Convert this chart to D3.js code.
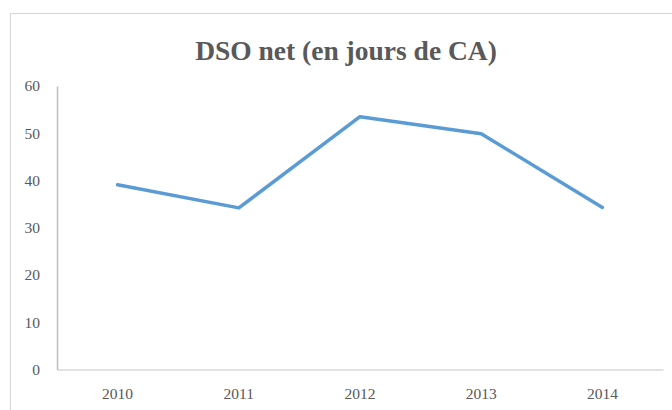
<!DOCTYPE html>
<html>
<head>
<meta charset="utf-8">
<script src="https://cdn.jsdelivr.net/npm/d3@7"></script>
<style>
  html, body { margin: 0; padding: 0; background: #fff; }
  svg { display: block; }
</style>
</head>
<body>
<svg id="chart" width="672" height="410"></svg>
<script>
const title = "DSO net (en jours de CA)";
const categories = ["2010", "2011", "2012", "2013", "2014"];
const values = [39.1, 34.2, 53.5, 49.9, 34.3];
const yTicks = [0, 10, 20, 30, 40, 50, 60];

const svg = d3.select("#chart");
const W = 672, H = 410;
const plot = { left: 57, right: 663, top: 86, bottom: 369.5 };
const textColor = "#595959";
const fontFamily = "'Liberation Serif', 'Times New Roman', serif";

// chart area frame
svg.append("rect")
  .attr("x", 10.5).attr("y", 13.5)
  .attr("width", 700).attr("height", 420)
  .attr("fill", "#fff")
  .attr("stroke", "#D9D9D9")
  .attr("stroke-width", 1.2);

const x = d3.scaleBand().domain(categories).range([plot.left, plot.right]);
const y = d3.scaleLinear().domain([0, 60]).range([plot.bottom, plot.top]);

// title
svg.append("text")
  .attr("x", 346).attr("y", 59.5)
  .attr("text-anchor", "middle")
  .attr("font-family", fontFamily)
  .attr("font-weight", "bold")
  .attr("font-size", 27.5)
  .attr("fill", textColor)
  .text(title);

// x axis
const gx = svg.append("g")
  .attr("transform", `translate(0,${plot.bottom})`)
  .call(d3.axisBottom(x).tickSizeInner(0).tickSizeOuter(0).tickPadding(18));
gx.select(".domain").attr("stroke", "#D9D9D9").attr("stroke-width", 1.5);
gx.selectAll("text")
  .attr("font-family", fontFamily).attr("font-size", 15.5).attr("fill", textColor);

// y axis
const gy = svg.append("g")
  .attr("transform", `translate(${plot.left},0)`)
  .call(d3.axisLeft(y).tickValues(yTicks).tickSizeInner(0).tickSizeOuter(0).tickPadding(17));
gy.select(".domain").attr("stroke", "#BFBFBF").attr("stroke-width", 1.5);
gy.selectAll("text")
  .attr("font-family", fontFamily).attr("font-size", 15.5).attr("fill", textColor);

// line
const line = d3.line()
  .x((d, i) => x(categories[i]) + x.bandwidth() / 2)
  .y(d => y(d));

svg.append("path")
  .datum(values)
  .attr("d", line)
  .attr("fill", "none")
  .attr("stroke", "#5B9BD5")
  .attr("stroke-width", 3.5)
  .attr("stroke-linejoin", "round")
  .attr("stroke-linecap", "round");
</script>
</body>
</html>
